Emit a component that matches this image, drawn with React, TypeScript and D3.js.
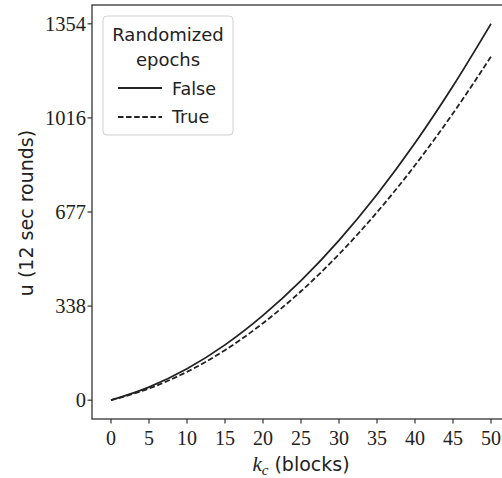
import React from "react";
import * as d3 from "d3";

const kValues = [0, 5, 10, 15, 20, 25, 30, 35, 40, 45, 50];
const uFalse = [0, 47, 113, 199, 305, 430, 575, 740, 925, 1130, 1354];
const uTrue = [0, 42, 102, 180, 277, 392, 525, 676, 845, 1032, 1236];
const xTicks = [0, 5, 10, 15, 20, 25, 30, 35, 40, 45, 50];
const yTicks = [0, 338.5, 677, 1015.5, 1354];
const yTickLabels = ["0", "338", "677", "1016", "1354"];
const seriesNames = ["False", "True"];
const legendTitle = ["Randomized", "epochs"];

const W = 502;
const H = 478;
const left = 92;
const right = 510;
const top = 5;
const bottom = 419;

export default function App() {
  const x = d3.scaleLinear().domain([-2.5, 52.5]).range([left, right]);
  const y = d3.scaleLinear().domain([-67.7, 1421.7]).range([bottom, top]);
  const line = d3
    .line<[number, number]>()
    .x((d) => x(d[0]))
    .y((d) => y(d[1]))
    .curve(d3.curveMonotoneX);
  const pathF = line(kValues.map((k, i) => [k, uFalse[i]]) as [number, number][]) || "";
  const pathT = line(kValues.map((k, i) => [k, uTrue[i]]) as [number, number][]) || "";
  const ink = "#222";
  const spine = "#333";
  const serif = "'Liberation Serif', 'Times New Roman', serif";
  const sans = "'DejaVu Sans', sans-serif";

  return (
    <svg
      width={W}
      height={H}
      style={{ position: "absolute", left: 0, top: 0, display: "block", background: "#fff" }}
    >
      <rect x={0} y={0} width={W} height={H} fill="#fff" />
      {/* curves */}
      <path d={pathF} fill="none" stroke={ink} strokeWidth={1.8} />
      <path d={pathT} fill="none" stroke={ink} strokeWidth={1.8} strokeDasharray="5.5,2.6" />
      {/* spines */}
      <rect x={left} y={top} width={right - left} height={bottom - top} fill="none" stroke={spine} strokeWidth={1.3} />
      {/* x ticks */}
      {xTicks.map((t) => (
        <g key={"x" + t}>
          <line x1={x(t)} x2={x(t)} y1={bottom} y2={bottom + 4.5} stroke={spine} strokeWidth={1.2} />
          <text x={x(t)} y={445} textAnchor="middle" fontFamily={serif} fontSize={20} fill={ink}>
            {t}
          </text>
        </g>
      ))}
      {/* y ticks */}
      {yTicks.map((t, i) => (
        <g key={"y" + t}>
          <line x1={left - 4.5} x2={left} y1={y(t)} y2={y(t)} stroke={spine} strokeWidth={1.2} />
          <text x={86} y={y(t) + 7} textAnchor="end" fontFamily={serif} fontSize={20.5} fill={ink}>
            {yTickLabels[i]}
          </text>
        </g>
      ))}
      {/* axis labels */}
      <text x={301} y={471} textAnchor="middle" fontSize={19} fill={ink}>
        <tspan fontFamily={serif} fontStyle="italic" fontSize={21}>k</tspan>
        <tspan fontFamily={serif} fontStyle="italic" fontSize={15} dy={4}>c</tspan>
        <tspan fontFamily={sans} dy={-4}> (blocks)</tspan>
      </text>
      <text
        transform={`translate(33, 213) rotate(-90)`}
        textAnchor="middle"
        fontFamily={sans}
        fontSize={19}
        fill={ink}
      >
        u (12 sec rounds)
      </text>
      {/* legend */}
      <rect x={103} y={16} width={130} height={119} rx={4} fill="#fff" fillOpacity={0.8} stroke="#d0d0d0" strokeWidth={1} />
      <text x={168} y={41} textAnchor="middle" fontFamily={sans} fontSize={18} fill={ink}>
        {legendTitle[0]}
      </text>
      <text x={168} y={66} textAnchor="middle" fontFamily={sans} fontSize={18} fill={ink}>
        {legendTitle[1]}
      </text>
      <line x1={118} x2={162} y1={88} y2={88} stroke={ink} strokeWidth={1.8} />
      <text x={172} y={95} fontFamily={sans} fontSize={17.5} fill={ink}>
        {seriesNames[0]}
      </text>
      <line x1={118} x2={162} y1={117} y2={117} stroke={ink} strokeWidth={1.8} strokeDasharray="5.5,2.6" />
      <text x={172} y={123} fontFamily={sans} fontSize={17.5} fill={ink}>
        {seriesNames[1]}
      </text>
    </svg>
  );
}
